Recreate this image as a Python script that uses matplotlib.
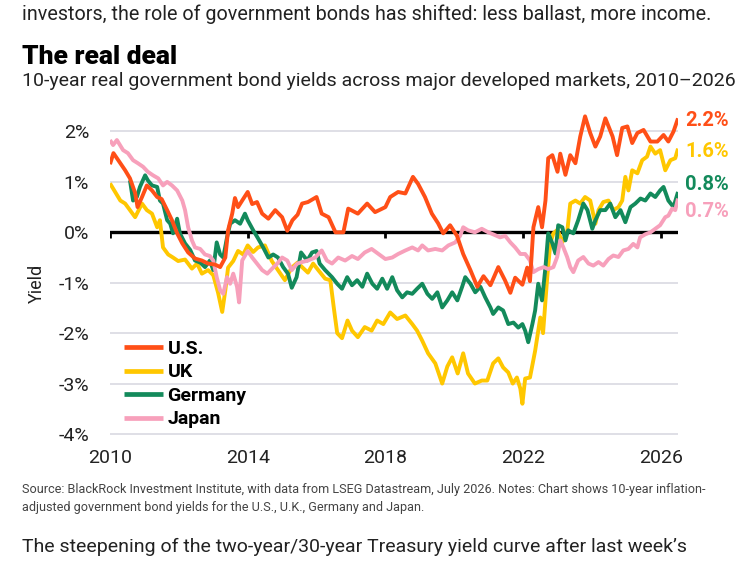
import numpy as np
import matplotlib.pyplot as plt
from matplotlib import font_manager

# ---- data (year, real yield %) ----
us_pts = [(2010.0, 1.35), (2010.1, 1.57), (2010.3, 1.37), (2010.44, 1.23), (2010.58, 1.07), (2010.73, 0.78),
          (2010.8, 0.5), (2010.93, 0.7), (2011.07, 0.93), (2011.22, 0.83), (2011.37, 0.7), (2011.5, 0.66),
          (2011.66, 0.44), (2011.8, 0.24), (2011.95, -0.02), (2012.1, -0.22), (2012.27, -0.4), (2012.47, -0.52),
          (2012.67, -0.56), (2012.85, -0.62), (2013.05, -0.64), (2013.2, -0.69), (2013.35, -0.5), (2013.43, 0.04),
          (2013.55, 0.37), (2013.63, 0.68), (2013.72, 0.5), (2013.84, 0.63), (2014.0, 0.8), (2014.13, 0.56),
          (2014.27, 0.6), (2014.42, 0.37), (2014.6, 0.27), (2014.8, 0.44), (2015.0, 0.3), (2015.15, 0.03),
          (2015.3, 0.24), (2015.45, 0.35), (2015.58, 0.57), (2015.75, 0.6), (2016.0, 0.7), (2016.15, 0.37),
          (2016.35, 0.3), (2016.55, 0.0), (2016.78, 0.0), (2016.92, 0.47), (2017.2, 0.37), (2017.47, 0.57),
          (2017.7, 0.4), (2018.0, 0.5), (2018.14, 0.7), (2018.37, 0.8), (2018.58, 0.77), (2018.8, 1.1),
          (2018.95, 0.96), (2019.15, 0.7), (2019.35, 0.37), (2019.53, 0.18), (2019.68, -0.02), (2019.88, 0.14),
          (2020.08, -0.07), (2020.26, -0.43), (2020.47, -0.75), (2020.67, -1.08), (2020.85, -0.87), (2021.05, -1.05),
          (2021.28, -0.69), (2021.48, -0.96), (2021.63, -1.2), (2021.77, -0.9), (2021.98, -1.04), (2022.12, -0.7),
          (2022.2, -0.97), (2022.3, 0.1), (2022.44, 0.5), (2022.55, 0.1), (2022.65, 0.63), (2022.73, 1.47),
          (2022.85, 1.53), (2023.0, 1.2), (2023.08, 1.56), (2023.23, 1.14), (2023.37, 1.53), (2023.52, 1.37),
          (2023.66, 1.9), (2023.8, 2.3), (2023.95, 1.97), (2024.1, 1.7), (2024.24, 1.9), (2024.39, 2.26),
          (2024.6, 1.9), (2024.73, 1.53), (2024.88, 2.07), (2025.03, 2.1), (2025.17, 1.77), (2025.32, 1.97),
          (2025.5, 2.03), (2025.7, 1.8), (2025.9, 1.8), (2026.08, 1.93), (2026.22, 1.8), (2026.37, 2.0),
          (2026.5, 2.26)]

uk_pts = [(2010.0, 0.97), (2010.15, 0.8), (2010.3, 0.63), (2010.44, 0.57), (2010.58, 0.44), (2010.73, 0.3),
          (2010.93, 0.57), (2011.07, 0.44), (2011.22, 0.37), (2011.37, 0.1), (2011.45, 0.24), (2011.54, -0.3),
          (2011.69, -0.44), (2011.83, -0.5), (2011.98, -0.57), (2012.18, -0.54), (2012.38, -0.72), (2012.53, -0.62),
          (2012.67, -0.82), (2012.85, -0.75), (2013.0, -0.85), (2013.14, -1.2), (2013.26, -1.58), (2013.35, -1.15),
          (2013.43, -0.7), (2013.58, -0.57), (2013.72, -0.37), (2013.87, -0.44), (2014.0, -0.26), (2014.16, -0.39),
          (2014.3, -0.3), (2014.5, -0.26), (2014.7, -0.57), (2014.88, -0.75), (2015.08, -0.95), (2015.28, -0.7),
          (2015.45, -0.6), (2015.58, -0.69), (2015.75, -0.8), (2015.9, -0.62), (2016.05, -0.75), (2016.25, -0.92),
          (2016.4, -0.95), (2016.5, -1.49), (2016.6, -2.0), (2016.74, -2.1), (2016.9, -1.75), (2017.03, -1.95),
          (2017.2, -2.08), (2017.4, -1.88), (2017.6, -1.95), (2017.76, -1.75), (2017.94, -1.82), (2018.14, -1.59),
          (2018.34, -1.72), (2018.58, -1.65), (2018.78, -1.82), (2018.92, -1.95), (2019.07, -2.15), (2019.24, -2.4),
          (2019.45, -2.6), (2019.65, -3.0), (2019.8, -2.66), (2019.94, -2.48), (2020.1, -2.8), (2020.26, -2.4),
          (2020.4, -2.8), (2020.6, -3.0), (2020.8, -2.94), (2020.96, -2.94), (2021.13, -2.6), (2021.28, -2.5),
          (2021.42, -2.68), (2021.57, -2.78), (2021.7, -3.0), (2021.82, -2.88), (2021.92, -3.1), (2021.98, -3.4),
          (2022.06, -2.9), (2022.2, -2.88), (2022.35, -2.35), (2022.5, -1.69), (2022.58, -2.0), (2022.7, -0.9),
          (2022.79, -0.22), (2022.88, -0.02), (2023.0, 0.05), (2023.14, -0.2), (2023.28, 0.0), (2023.37, 0.57),
          (2023.52, 0.63), (2023.66, 0.57), (2023.8, 0.7), (2023.95, 0.63), (2024.1, 0.17), (2024.19, 0.44),
          (2024.33, 0.6), (2024.48, 0.63), (2024.62, 0.44), (2024.77, 0.5), (2024.88, 0.63), (2024.97, 1.1),
          (2025.06, 0.83), (2025.17, 1.23), (2025.32, 1.17), (2025.46, 1.43), (2025.6, 1.5), (2025.7, 1.7),
          (2025.84, 1.56), (2025.98, 1.63), (2026.13, 1.23), (2026.28, 1.43), (2026.42, 1.47), (2026.5, 1.66)]

de_pts = [(2010.58, 1.03), (2010.67, 0.63), (2010.78, 0.7), (2010.87, 0.9), (2011.02, 1.13), (2011.1, 1.03),
          (2011.22, 0.93), (2011.37, 0.9), (2011.45, 0.63), (2011.54, 0.57), (2011.66, 0.24), (2011.75, 0.17),
          (2011.83, -0.02), (2011.95, 0.27), (2012.03, -0.02), (2012.18, -0.22), (2012.33, -0.35), (2012.47, -0.56),
          (2012.62, -0.6), (2012.76, -0.69), (2012.9, -0.56), (2013.0, -0.75), (2013.1, -0.2), (2013.2, -0.44),
          (2013.29, -0.5), (2013.4, -0.1), (2013.49, 0.17), (2013.63, 0.24), (2013.78, 0.17), (2013.92, 0.37),
          (2014.0, 0.24), (2014.16, 0.04), (2014.3, -0.12), (2014.45, -0.3), (2014.6, -0.5), (2014.74, -0.44),
          (2014.88, -0.5), (2015.03, -0.69), (2015.17, -0.82), (2015.28, -1.1), (2015.42, -0.89), (2015.55, -0.4),
          (2015.73, -0.56), (2015.87, -0.4), (2016.0, -0.37), (2016.09, -0.62), (2016.25, -0.75), (2016.45, -0.89),
          (2016.6, -1.02), (2016.74, -1.12), (2016.89, -0.89), (2017.03, -1.05), (2017.18, -0.95), (2017.33, -1.08),
          (2017.47, -0.82), (2017.62, -1.02), (2017.76, -1.12), (2017.91, -0.92), (2018.05, -1.12), (2018.2, -0.89),
          (2018.34, -1.15), (2018.49, -1.29), (2018.63, -1.19), (2018.78, -1.22), (2018.92, -1.12), (2019.07, -1.02),
          (2019.22, -1.22), (2019.36, -1.32), (2019.51, -1.19), (2019.65, -1.49), (2019.8, -1.35), (2019.94, -1.19),
          (2020.09, -1.35), (2020.23, -1.08), (2020.32, -0.89), (2020.47, -1.02), (2020.61, -1.19), (2020.76, -1.08),
          (2020.9, -1.29), (2021.05, -1.49), (2021.13, -1.62), (2021.28, -1.49), (2021.42, -1.55), (2021.57, -1.82),
          (2021.72, -1.79), (2021.86, -1.89), (2021.98, -1.82), (2022.06, -1.95), (2022.15, -2.18), (2022.27, -1.82),
          (2022.35, -1.55), (2022.44, -1.02), (2022.55, -1.35), (2022.65, -0.69), (2022.73, -0.02), (2022.85, -0.22),
          (2022.94, -0.42), (2023.02, 0.14), (2023.14, 0.1), (2023.23, -0.16), (2023.31, 0.04), (2023.46, -0.02),
          (2023.6, 0.24), (2023.75, 0.57), (2023.87, 0.44), (2024.01, 0.07), (2024.1, 0.24), (2024.24, 0.44),
          (2024.39, 0.44), (2024.53, 0.57), (2024.68, 0.3), (2024.83, 0.44), (2024.97, 0.2), (2025.12, 0.5),
          (2025.26, 0.57), (2025.41, 0.67), (2025.55, 0.63), (2025.7, 0.77), (2025.84, 0.7), (2025.98, 0.83),
          (2026.08, 0.9), (2026.22, 0.63), (2026.37, 0.5), (2026.5, 0.8)]

jp_pts = [(2010.0, 1.83), (2010.09, 1.73), (2010.2, 1.83), (2010.29, 1.73), (2010.38, 1.63), (2010.52, 1.57),
          (2010.67, 1.43), (2010.81, 1.37), (2010.96, 1.3), (2011.1, 1.2), (2011.25, 1.13), (2011.4, 1.07),
          (2011.54, 0.93), (2011.66, 1.0), (2011.8, 0.93), (2011.95, 0.83), (2012.1, 0.63), (2012.18, 0.44),
          (2012.27, 0.1), (2012.38, -0.16), (2012.47, -0.3), (2012.62, -0.33), (2012.76, -0.44), (2012.9, -0.47),
          (2013.0, -0.56), (2013.1, -0.89), (2013.2, -1.15), (2013.29, -1.22), (2013.4, -0.89), (2013.49, -1.02),
          (2013.58, -0.82), (2013.69, -1.08), (2013.75, -1.39), (2013.84, -0.56), (2014.0, -0.37), (2014.13, -0.5),
          (2014.27, -0.62), (2014.42, -0.75), (2014.57, -0.82), (2014.71, -0.72), (2014.86, -0.62), (2015.0, -0.5),
          (2015.15, -0.56), (2015.28, -0.75), (2015.44, -0.62), (2015.58, -0.59), (2015.75, -0.56), (2015.96, -0.5),
          (2016.15, -0.36), (2016.3, -0.56), (2016.45, -0.62), (2016.63, -0.5), (2016.83, -0.56), (2017.03, -0.47),
          (2017.2, -0.53), (2017.4, -0.4), (2017.6, -0.33), (2017.8, -0.43), (2018.0, -0.53), (2018.2, -0.5),
          (2018.37, -0.43), (2018.58, -0.36), (2018.78, -0.3), (2018.95, -0.36), (2019.07, -0.26), (2019.24, -0.36),
          (2019.45, -0.33), (2019.65, -0.36), (2019.83, -0.26), (2020.03, -0.2), (2020.17, -0.07), (2020.26, 0.1),
          (2020.4, 0.04), (2020.6, 0.0), (2020.8, 0.07), (2020.99, 0.0), (2021.13, -0.04), (2021.33, -0.1),
          (2021.48, -0.07), (2021.63, -0.2), (2021.77, -0.3), (2021.92, -0.43), (2022.06, -0.43), (2022.2, -0.56),
          (2022.3, -0.79), (2022.44, -0.73), (2022.6, -0.69), (2022.73, -0.73), (2022.88, -0.69), (2022.99, -0.49),
          (2023.08, -0.16), (2023.17, -0.3), (2023.28, -0.49), (2023.37, -0.69), (2023.46, -0.79), (2023.6, -0.56),
          (2023.75, -0.49), (2023.9, -0.62), (2024.04, -0.66), (2024.19, -0.59), (2024.33, -0.66), (2024.48, -0.53),
          (2024.62, -0.46), (2024.77, -0.49), (2024.91, -0.36), (2025.06, -0.33), (2025.2, -0.23), (2025.32, -0.3),
          (2025.4, -0.1), (2025.55, -0.04), (2025.7, 0.0), (2025.84, 0.07), (2025.98, 0.14), (2026.13, 0.3),
          (2026.22, 0.33), (2026.33, 0.47), (2026.42, 0.44), (2026.5, 0.67)]

countries = ["U.S.", "UK", "Germany", "Japan"]
end_labels = ["2.2%", "1.6%", "0.8%", "0.7%"]
label_y = [2.21, 1.6, 0.95, 0.42]   # where the end labels sit
x_ticks = [2010, 2014, 2018, 2022, 2026]
y_ticks = [-4, -3, -2, -1, 0, 1, 2]

colors = ["#ff4f17", "#ffc700", "#138a5b", "#f7a0bb"]
series = [us_pts, uk_pts, de_pts, jp_pts]

names = {f.name for f in font_manager.fontManager.ttflist}
main_font = "Roboto" if "Roboto" in names else "DejaVu Sans"
plt.rcParams["font.family"] = [main_font, "DejaVu Sans"]

fig = plt.figure(figsize=(7.56, 5.62), dpi=100)
ax = fig.add_axes([110 / 756, 1 - 436.5 / 562, 568 / 756, 325.2 / 562])

# draw UK, Germany, Japan, then U.S. on top
lines = {}
for i in [1, 2, 3, 0]:
    pts = np.array(series[i])
    ln, = ax.plot(pts[:, 0], pts[:, 1], color=colors[i], lw=2.8, solid_joinstyle="round",
                  solid_capstyle="butt", label=countries[i], zorder=3 + (i == 0))
    lines[i] = ln

ax.set_xlim(2010, 2026.5)
ax.set_ylim(-4.05, 2.4)
ax.set_yticks(y_ticks)
ax.set_yticklabels([f"{v}%" if v >= 0 else f"-{abs(v)}%" for v in y_ticks])
ax.set_xticks(x_ticks)
ax.set_xticklabels([str(x) for x in x_ticks])
ax.grid(axis="y", color="#d9d9e1", lw=1.2, zorder=0)
ax.axhline(0, color="black", lw=2.4, zorder=2)
ax.vlines(x_ticks, -0.12, 0, color="black", lw=2, zorder=2)

for s in ax.spines.values():
    s.set_visible(False)
ax.tick_params(axis="both", length=0, labelsize=14, colors="#222222")
ax.tick_params(axis="y", pad=15)
ax.tick_params(axis="x", pad=9)

for i in range(4):
    ax.annotate(end_labels[i], xy=(2026.5, label_y[i]), xytext=(5, 0), textcoords="offset points",
                va="center", ha="left", color=colors[i], fontsize=14.5, fontweight="bold",
                annotation_clip=False)

leg = ax.legend(handles=[lines[0], lines[1], lines[2], lines[3]], loc="lower left",
                bbox_to_anchor=(0.024, 0.025), frameon=False, borderpad=0, borderaxespad=0,
                handlelength=2.0, handletextpad=0.25, labelspacing=0.28, fontsize=14)
for t in leg.get_texts():
    t.set_fontweight("bold")
for h in leg.legend_handles:
    h.set_linewidth(3.4)

fig.text(37 / 756, 1 - 283 / 562, "Yield", rotation=90, ha="center", va="center", fontsize=13, color="#222222")

fig.text(22 / 756, 1 - 14 / 562, "investors, the role of government bonds has shifted: less ballast, more income.",
         fontsize=14.2, va="center", color="#222222")
fig.text(22 / 756, 1 - 57 / 562, "The real deal", fontsize=19, fontweight="heavy", va="center", color="black")
fig.text(22 / 756, 1 - 81 / 562, "10-year real government bond yields across major developed markets, 2010\u20132026",
         fontsize=14, va="center", color="#222222")
fig.text(22 / 756, 1 - 490 / 562,
         "Source: BlackRock Investment Institute, with data from LSEG Datastream, July 2026. Notes: Chart shows 10-year inflation-",
         fontsize=9.1, va="center", color="#444444")
fig.text(22 / 756, 1 - 508 / 562, "adjusted government bond yields for the U.S., U.K., Germany and Japan.",
         fontsize=9.1, va="center", color="#444444")
fig.text(22 / 756, 1 - 547 / 562, "The steepening of the two-year/30-year Treasury yield curve after last week\u2019s",
         fontsize=14, va="center", color="#222222")

fig.savefig("out.png", dpi=100)
